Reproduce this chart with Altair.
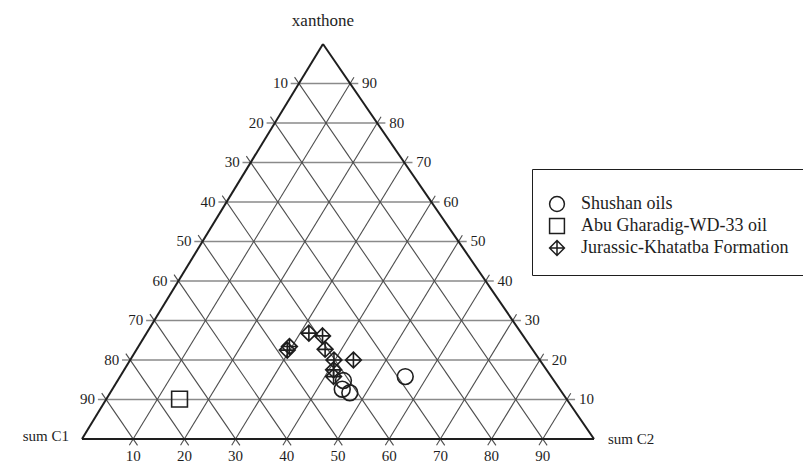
import altair as alt
import pandas as pd

# ---------------- data ----------------
series_names = ["Shushan oils", "Abu Gharadig-WD-33 oil", "Jurassic-Khatatba Formation"]

shushan_c1 = [41.1, 42.5, 41.5, 28.5]
shushan_c2 = [44.1, 44.9, 46.8, 55.7]
shushan_xan = [14.8, 12.6, 11.7, 15.8]

abu_c1 = [75.6]
abu_c2 = [14.3]
abu_xan = [10.1]

jur_c1 = [47.1, 48.0, 41.5, 39.2, 40.5, 40.2, 36.4, 41.6, 42.5]
jur_c2 = [29.5, 29.5, 31.7, 34.7, 36.8, 39.8, 43.6, 40.9, 41.7]
jur_xan = [23.4, 22.5, 26.8, 26.1, 22.7, 20.0, 20.0, 17.5, 15.8]

grid_levels = [10, 20, 30, 40, 50, 60, 70, 80, 90]
bottom_labels = ["10", "20", "30", "40", "50", "60", "70", "80", "90"]  # sum C2
left_labels = ["10", "20", "30", "40", "50", "60", "70", "80", "90"]    # sum C1
right_labels = ["10", "20", "30", "40", "50", "60", "70", "80", "90"]   # xanthone

corner_titles = ["sum C1", "sum C2", "xanthone"]

# ---------------- layout constants ----------------
SKEW = 0.4707   # horizontal offset of apex as fraction of base (scan is skewed)
EXT = 1.6       # tick extension beyond edges (ternary %)
W, H = 795, 456
XDOM = [-14.45, 140.82]
YDOM = [-6.33, 109.11]
FONT = "Liberation Serif"
INK = "#1e1e1e"


def uv(c2, xan):
    return c2 + SKEW * xan, xan


# points
rows = []
for name, c1s, c2s, xs in [
    (series_names[0], shushan_c1, shushan_c2, shushan_xan),
    (series_names[1], abu_c1, abu_c2, abu_xan),
    (series_names[2], jur_c1, jur_c2, jur_xan),
]:
    for c1, c2, xa in zip(c1s, c2s, xs):
        u, v = uv(c2, xa)
        rows.append({"series": name, "sumC1": c1, "sumC2": c2, "xanthone": xa, "u": u, "v": v})
pts = pd.DataFrame(rows)

# grid lines (with tick extensions)
gh, gd = [], []
for k in grid_levels:
    u1, v1 = uv(-EXT, k)
    u2, v2 = uv(100 - k + EXT, k)
    gh.append({"u": u1, "v": v1, "u2": u2, "v2": v2})
    u1, v1 = uv(k, -EXT)
    u2, v2 = uv(k, 100 - k + EXT)
    gd.append({"u": u1, "v": v1, "u2": u2, "v2": v2})
    u1, v1 = uv(100 - k + EXT, -EXT)
    u2, v2 = uv(-EXT, 100 - k + EXT)
    gd.append({"u": u1, "v": v1, "u2": u2, "v2": v2})
grid_h = pd.DataFrame(gh)
grid_d = pd.DataFrame(gd)

# triangle edges
e = []
for (a2, ax), (b2, bx) in [((0, 0), (100, 0)), ((0, 0), (0, 100)), ((100, 0), (0, 100))]:
    u1, v1 = uv(a2, ax)
    u2, v2 = uv(b2, bx)
    e.append({"u": u1, "v": v1, "u2": u2, "v2": v2})
edges = pd.DataFrame(e)

# tick labels
bl, ll, rl = [], [], []
for k, t in zip(grid_levels, bottom_labels):
    u, v = uv(k, 0)
    bl.append({"u": u, "v": v, "t": t})
for k, t in zip(grid_levels, left_labels):
    u, v = uv(0, 100 - k)
    ll.append({"u": u, "v": v, "t": t})
for k, t in zip(grid_levels, right_labels):
    u, v = uv(100 - k, k)
    rl.append({"u": u, "v": v, "t": t})
bl, ll, rl = pd.DataFrame(bl), pd.DataFrame(ll), pd.DataFrame(rl)

corners = []
for (c2, xa), t in zip([(0, 0), (100, 0), (0, 100)], corner_titles):
    u, v = uv(c2, xa)
    corners.append({"u": u, "v": v, "t": t})
corners = pd.DataFrame(corners)

xs = alt.Scale(domain=XDOM, nice=False, zero=False)
ys = alt.Scale(domain=YDOM, nice=False, zero=False)
X = alt.X("u:Q", scale=xs, axis=None)
Y = alt.Y("v:Q", scale=ys, axis=None)

grid_h_layer = alt.Chart(grid_h).mark_rule(color="#8a8a8a", strokeWidth=1.3).encode(
    x=X, y=Y, x2="u2:Q", y2="v2:Q")
grid_d_layer = alt.Chart(grid_d).mark_rule(color="#4d4d4d", strokeWidth=1.1).encode(
    x=X, y=Y, x2="u2:Q", y2="v2:Q")
edge_layer = alt.Chart(edges).mark_rule(color=INK, strokeWidth=2).encode(
    x=X, y=Y, x2="u2:Q", y2="v2:Q")

DIAMOND_CROSS = "M0,-1L1,0L0,1L-1,0Z M0,-1L0,1 M-1,0L1,0"

point_layer = alt.Chart(pts).mark_point(
    filled=False, size=250, strokeWidth=1.6, color=INK, opacity=1
).encode(
    x=X, y=Y,
    shape=alt.Shape(
        "series:N",
        scale=alt.Scale(domain=series_names, range=["circle", "square", DIAMOND_CROSS]),
        legend=alt.Legend(
            title=" ", titleFontSize=5, titlePadding=5,
            orient="none", legendX=524, legendY=161,
            strokeColor=INK, padding=16, fillColor="white",
            symbolSize=220, symbolStrokeWidth=1.5, symbolStrokeColor=INK,
            symbolFillColor="transparent",
            labelFont=FONT, labelFontSize=18, labelColor=INK, labelLimit=400,
            labelOffset=15, rowPadding=0,
        ),
    ),
    tooltip=["series:N", "sumC1:Q", "sumC2:Q", "xanthone:Q"],
)

txt = dict(font=FONT, fontSize=15, color=INK)
bottom_layer = alt.Chart(bl).mark_text(align="center", baseline="middle", dy=17, **txt).encode(
    x=X, y=Y, text="t:N")
left_layer = alt.Chart(ll).mark_text(align="right", baseline="middle", dx=-11, **txt).encode(
    x=X, y=Y, text="t:N")
right_layer = alt.Chart(rl).mark_text(align="left", baseline="middle", dx=12, **txt).encode(
    x=X, y=Y, text="t:N")

c1_layer = alt.Chart(corners.iloc[[0]]).mark_text(align="right", baseline="middle", dx=-13, dy=-3,
                                                  font=FONT, fontSize=15, color=INK).encode(
    x=X, y=Y, text="t:N")
c2_layer = alt.Chart(corners.iloc[[1]]).mark_text(align="left", baseline="middle", dx=14, dy=0,
                                                  font=FONT, fontSize=15, color=INK).encode(
    x=X, y=Y, text="t:N")
xan_layer = alt.Chart(corners.iloc[[2]]).mark_text(align="center", baseline="middle", dy=-23,
                                                   font=FONT, fontSize=17, color=INK).encode(
    x=X, y=Y, text="t:N")

chart = alt.layer(
    grid_h_layer, grid_d_layer, edge_layer, bottom_layer, left_layer, right_layer,
    c1_layer, c2_layer, xan_layer, point_layer
).properties(
    width=W, height=H, padding=0, autosize=alt.AutoSizeParams(type="none"),
    background="white",
).configure_view(stroke=None)

chart.save("out.html", embed_options={"renderer": "svg", "actions": False})
